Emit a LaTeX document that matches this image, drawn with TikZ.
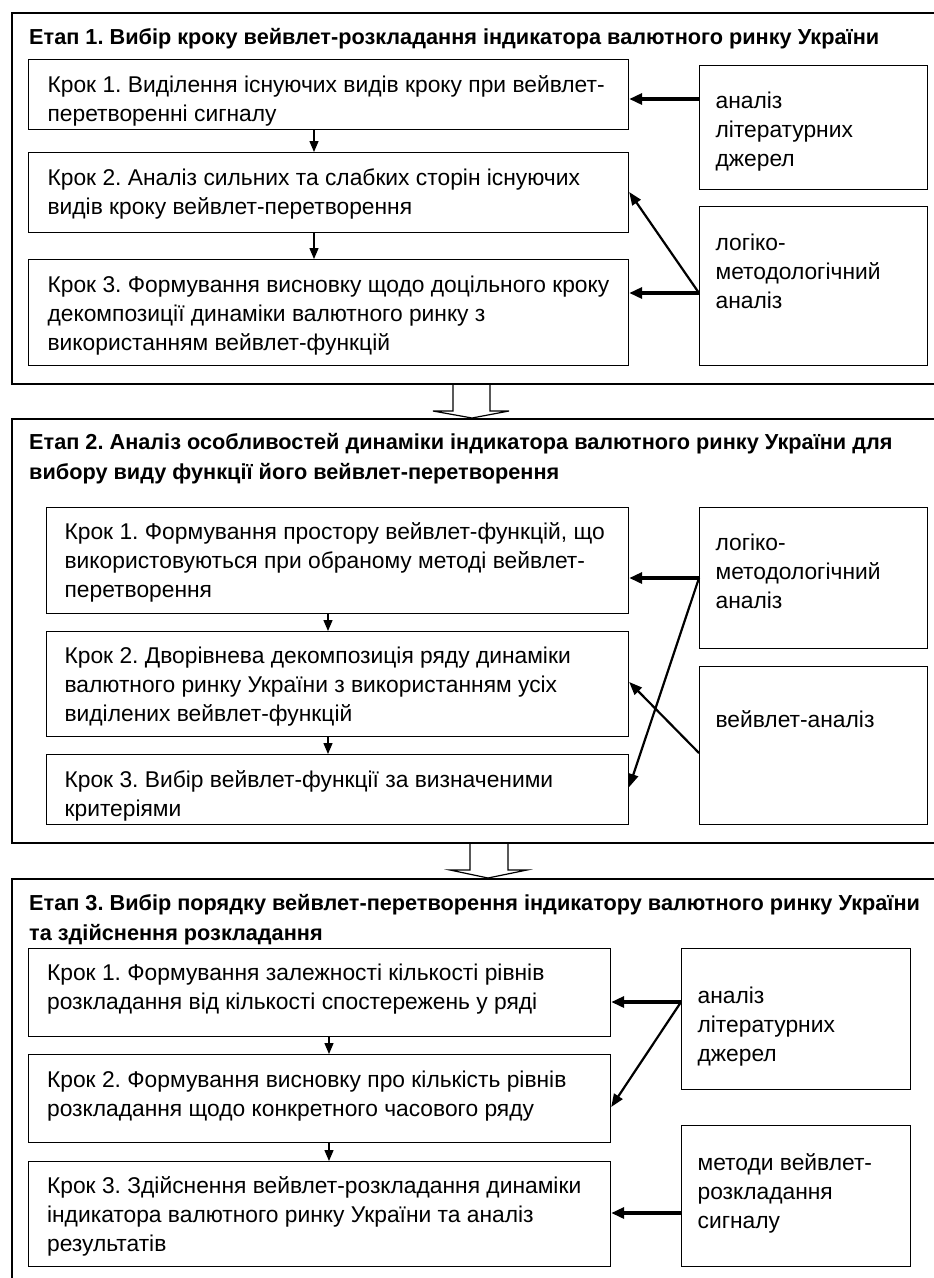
\documentclass[tikz,border=0pt]{standalone}
\usepackage{fontspec}
\setmainfont{Liberation Sans}
\usetikzlibrary{arrows.meta,calc}
\frenchspacing
\newcommand{\tbx}[5]{\begin{minipage}[t][#2][t]{#1}\raggedright\setlength{\parindent}{0pt}\setlength{\leftskip}{#3}\setlength{\baselineskip}{29pt}\rule{0pt}{#4}#5\par\end{minipage}}
\newcommand{\bodyfont}{\fontsize{22.8pt}{29pt}\selectfont}
\newcommand{\titlefont}{\fontsize{21.7pt}{30.5pt}\selectfont\bfseries}
\begin{document}
\begin{tikzpicture}[x=1pt,y=-1pt,
  stage/.style={draw, line width=2pt, inner sep=0pt, anchor=north west},
  stepbox/.style={draw, line width=1.2pt, inner sep=0pt, anchor=north west, font=\bodyfont},
  ttl/.style={inner sep=0pt, anchor=north west, font=\titlefont},
  down/.style={line width=1.3pt, -{Triangle[length=11pt,width=9pt]}},
  thickarr/.style={line width=3.4pt, -{Triangle[length=13pt,width=11pt]}},
  diagarr/.style={line width=2.2pt, -{Triangle[length=13pt,width=10pt]}},
  hollow/.style={draw, line width=1.2pt}]
\useasboundingbox (0,0) rectangle (934,1278);
\clip (0,0) rectangle (934,1278);
\fill[white] (0,0) rectangle (934,1278);

% ---------- Stage 1 ----------
\node[stage, minimum width=929pt, minimum height=371pt] (st1) at (11,12) {};
\node[ttl] (t1) at (29,12) {\begin{minipage}[t]{900pt}\rule{0pt}{32pt}Етап 1. Вибір кроку вейвлет-розкладання індикатора валютного ринку України\end{minipage}};
\node[stepbox] (s11) at (28,59) {\tbx{600pt}{70pt}{19pt}{33pt}{Крок 1. Виділення існуючих видів кроку при вейвлет-\\перетворенні сигналу}};
\node[stepbox] (s12) at (28,152) {\tbx{600pt}{80pt}{19pt}{33pt}{Крок 2. Аналіз сильних та слабких сторін існуючих\\видів кроку вейвлет-перетворення}};
\node[stepbox] (s13) at (28,259) {\tbx{600pt}{106pt}{19pt}{33pt}{Крок 3. Формування висновку щодо доцільного кроку\\декомпозиції динаміки валютного ринку з\\використанням вейвлет-функцій}};
\node[stepbox] (a11) at (699,64.5) {\tbx{228pt}{124pt}{16pt}{43.5pt}{аналіз\\літературних\\джерел}};
\node[stepbox] (b11) at (699,206) {\tbx{228pt}{159pt}{16pt}{44pt}{логіко-\\методологічний\\аналіз}};
\draw[down] ([xshift=286pt]s11.south west) -- ([xshift=286pt]s12.north west);
\draw[down] ([xshift=286pt]s12.south west) -- ([xshift=286pt]s13.north west);
\draw[thickarr] ([yshift=-34.5pt]a11.north west) -- ([yshift=-40pt]s11.north east);
\draw[thickarr] ([yshift=-87pt]b11.north west) -- ([yshift=-34pt]s13.north east);
\draw[diagarr] ([yshift=-87pt]b11.north west) -- ([yshift=-40pt]s12.north east);

% ---------- Stage 2 ----------
\node[stage, minimum width=929pt, minimum height=424pt] (st2) at (11,418) {};
\node[ttl] (t2) at (29,418) {\begin{minipage}[t]{900pt}\setlength{\baselineskip}{30.5pt}\rule{0pt}{31pt}Етап 2. Аналіз особливостей динаміки індикатора валютного ринку України для\\вибору виду функції його вейвлет-перетворення\end{minipage}};
\node[stepbox] (s21) at (46,507) {\tbx{582pt}{106pt}{18pt}{32pt}{Крок 1. Формування простору вейвлет-функцій, що\\використовуються при обраному методі вейвлет-\\перетворення}};
\node[stepbox] (s22) at (46,631) {\tbx{582pt}{105pt}{18pt}{32pt}{Крок 2. Дворівнева декомпозиція ряду динаміки\\валютного ринку України з використанням усіх\\виділених вейвлет-функцій}};
\node[stepbox] (s23) at (46,754) {\tbx{582pt}{70pt}{18pt}{33pt}{Крок 3. Вибір вейвлет-функції за визначеними\\критеріями}};
\node[stepbox] (a21) at (699,507) {\tbx{228pt}{141pt}{16pt}{43pt}{логіко-\\методологічний\\аналіз}};
\node[stepbox] (b21) at (699,666) {\tbx{228pt}{158pt}{16pt}{61pt}{вейвлет-аналіз}};
\draw[down] ([xshift=282pt]s21.south west) -- ([xshift=282pt]s22.north west);
\draw[down] ([xshift=282pt]s22.south west) -- ([xshift=282pt]s23.north west);
\draw[thickarr] ([yshift=-71pt]a21.north west) -- ([yshift=-71pt]s21.north east);
\draw[diagarr] ([yshift=-71pt]a21.north west) -- ([yshift=-33pt]s23.north east);
\draw[diagarr] ([yshift=-87pt]b21.north west) -- ([yshift=-51pt]s22.north east);

% ---------- Stage 3 ----------
\node[stage, minimum width=929pt, minimum height=412pt] (st3) at (11,878) {};
\node[ttl] (t3) at (29,878) {\begin{minipage}[t]{900pt}\setlength{\baselineskip}{30.5pt}\rule{0pt}{32pt}Етап 3. Вибір порядку вейвлет-перетворення індикатору валютного ринку України\\та здійснення розкладання\end{minipage}};
\node[stepbox] (s31) at (28,948) {\tbx{582pt}{88pt}{18.5pt}{32pt}{Крок 1. Формування залежності кількості рівнів\\розкладання від кількості спостережень у ряді}};
\node[stepbox] (s32) at (28,1054) {\tbx{582pt}{88pt}{18.5pt}{33pt}{Крок 2. Формування висновку про кількість рівнів\\розкладання щодо конкретного часового ряду}};
\node[stepbox] (s33) at (28,1161) {\tbx{582pt}{105pt}{18.5pt}{32pt}{Крок 3. Здійснення вейвлет-розкладання динаміки\\індикатора валютного ринку України та аналіз\\результатів}};
\node[stepbox] (a31) at (681,948) {\tbx{229pt}{141pt}{16pt}{55pt}{аналіз\\літературних\\джерел}};
\node[stepbox] (b31) at (681,1125) {\tbx{229pt}{141pt}{16pt}{45pt}{методи вейвлет-\\розкладання\\сигналу}};
\draw[down] ([xshift=301pt]s31.south west) -- ([xshift=301pt]s32.north west);
\draw[down] ([xshift=301pt]s32.south west) -- ([xshift=301pt]s33.north west);
\draw[thickarr] ([yshift=-54pt]a31.north west) -- ([yshift=-54pt]s31.north east);
\draw[diagarr] ([yshift=-54pt]a31.north west) -- ([yshift=-53pt]s32.north east);
\draw[thickarr] ([yshift=-88pt]b31.north west) -- ([yshift=-52pt]s33.north east);

% ---------- block arrows between stages ----------
\draw[hollow] ($(st1.south west)+(442,0)$) -- ++(0,26) -- ++(-20,0) -- ($(st2.north west)+(461,0)$) -- ($(st1.south west)+(498,26)$) -- ++(-19,0) -- ($(st1.south west)+(479,0)$);
\draw[hollow] ($(st2.south west)+(459,0)$) -- ++(0,26) -- ++(-20,0) -- ($(st3.north west)+(477,0)$) -- ($(st2.south west)+(516,26)$) -- ++(-19,0) -- ($(st2.south west)+(497,0)$);
\end{tikzpicture}
\end{document}
